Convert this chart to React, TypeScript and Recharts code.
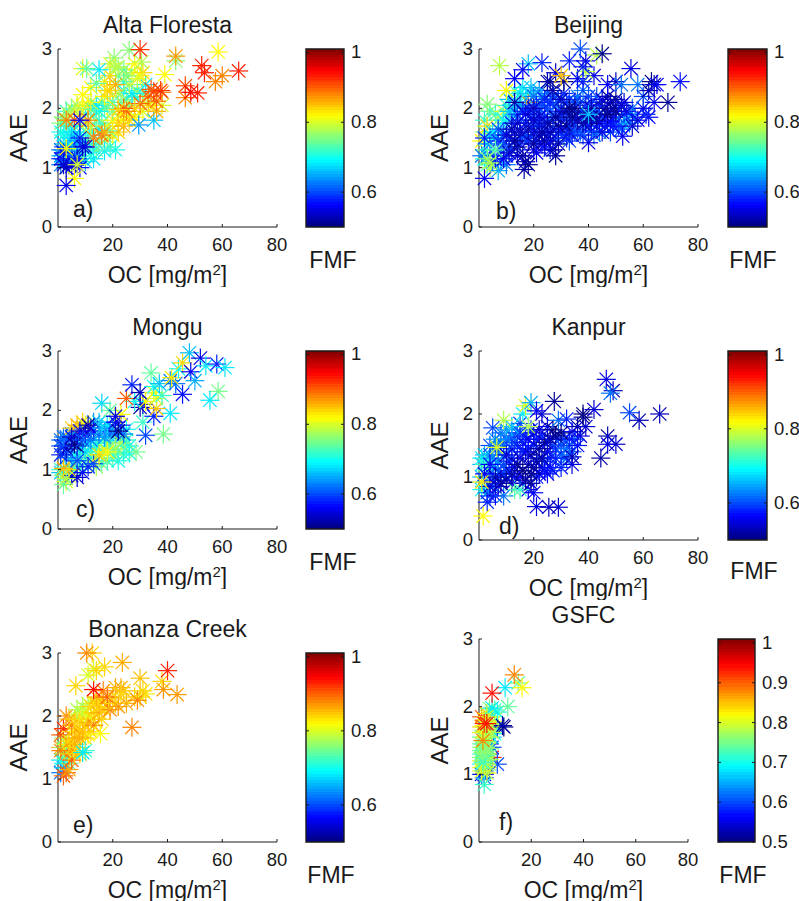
import { ScatterChart, Scatter, BarChart, Bar, XAxis, YAxis } from 'recharts';

// each point is [OC, AAE, FMF]
type Pt = [number, number, number];

const altaFloresta: Pt[] = [
  [15, 1.45, .76], [13, 1.4, .72], [18, 1.5, .78], [20, 1.55, .82], [22, 1.6, .84], [24, 1.8, .8], [26, 1.9, .78], [19, 1.62, .74], [15, 1.65, .68], [12, 1.6, .7],
  [10, 1.9, .72], [12, 2, .7], [16, 2.1, .72], [18, 2.05, .78], [20, 2.1, .72], [23, 2.1, .74], [26, 2.05, .76], [29, 2.3, .76], [31, 2.25, .72], [33, 2.1, .78],
  [35, 2.05, .82], [31, 1.95, .8], [28, 1.85, .82], [24, 2.3, .7], [22, 2.55, .76], [27, 2.6, .8], [24, 2.65, .74], [28, 2.75, .82], [17, 2.45, .8], [19, 2.55, .84],
  [22, 2.7, .78], [12, 2.35, .82], [11, 2.05, .84], [9, 2.05, .82], [7, 2.05, .8], [5, 2, .76], [3, 1.95, .72], [1, 1.75, .76], [1, 1.6, .7], [2, 1.4, .66],
  [4, 1.7, .7], [6, 1.7, .72], [8, 1.72, .76], [6, 1.55, .66], [9, 1.4, .68], [10, 1.6, .72], [11, 1.4, .66], [13, 1.15, .68], [10, 1.1, .66], [7, 1.22, .66],
  [4, 1.3, .64], [1, 1.2, .66], [1, 1.05, .62], [3, 1.12, .64], [5, 1.35, .62], [2, 1.35, .6], [6, 1.38, .58], [8, 1.28, .6], [21, 1.3, .7], [17, 1.28, .68],
  [19, 1.35, .72], [14, 1.3, .74], [12, 1.25, .7], [9, 1.2, .72], [7, 1.3, .72], [11, 1.45, .74], [8, 1.55, .7], [5, 1.6, .68],
  [3, 1.7, .72], [2, 1.85, .76], [4, 1.9, .78], [6, 1.95, .78], [8, 1.9, .8], [10, 1.75, .78], [12, 1.7, .8], [14, 1.8, .76], [16, 1.75, .72], [18, 1.7, .78],
  [20, 1.8, .82], [22, 1.75, .84], [24, 1.7, .86], [26, 1.8, .84], [23, 1.9, .82], [20, 1.95, .76], [17, 2, .74], [15, 1.95, .7], [13, 1.98, .74], [14, 2.05, .68],
  [12, 2.1, .8], [17, 2.2, .82], [19, 2.3, .84], [22, 2.25, .78], [25, 2.15, .76], [28, 2.2, .72], [27, 2.25, .68], [24, 2.45, .72], [26, 2.4, .78], [21, 2.4, .86],
  [18, 2.3, .84], [14, 2.42, .74], [9, 2.23, .82], [32, 2.4, .68], [30, 2.55, .82], [31, 2.6, .84], [29, 2.5, .8], [25, 2.55, .76], [20.5, 2.85, .76], [19, 2.75, .8],
  [21, 2.68, .78], [30.5, 2.78, .78], [26, 2.98, .76], [30, 2.99, .92], [15, 2.65, .68], [9, 2.67, .8], [10.5, 2.67, .74], [43, 2.8, .76], [43, 2.88, .87], [39, 2.57, .82],
  [35, 1.8, .66], [29.5, 1.72, .64], [38, 2.05, .8], [36, 1.95, .86], [33, 2.05, .84], [36, 2.12, .9], [33, 2.2, .88], [30, 2.08, .9], [28, 2, .84], [25, 1.95, .88],
  [24, 2, .9], [22, 1.98, .84], [38, 2.27, .88], [37.5, 2.3, .92], [35, 2.28, .92], [34, 2.32, .9], [46.5, 2.18, .88], [46.5, 2.38, .91], [48.5, 2.27, .95], [51, 2.26, .93],
  [57.5, 2.45, .88], [60, 2.55, .88], [53.5, 2.6, .93], [52.5, 2.72, .93], [58.5, 2.95, .82], [66, 2.63, .93], [16, 1.55, .9], [13, 1.5, .88], [17, 1.6, .86], [11, 1.8, .88],
  [6, 1.8, .9], [3, 1.8, .88], [5, 1.5, .66], [2, 1.55, .7], [4, 1.4, .68], [7, 1.45, .64], [3, 1.2, .66], [1, 1.3, .62], [2, 1.1, .66], [5, 1.2, .62],
  [1, 1.15, .58], [2, 1.25, .56], [4, 1.05, .58], [6, 1.1, .6], [3, 1, .52], [5, 1.02, .55], [2, 1.05, .54], [7, 1.15, .56], [8, 1, .56], [6, .82, .82],
  [3, .7, .56], [9, 1.35, .53], [10, 1.35, .55], [8, 1.5, .58], [8, 1.8, .56], [3, 1.32, .82], [7, 1.05, .8],
];

const beijing: Pt[] = [
  [2, 1.3, .74], [1, 1.45, .82], [2, 1.6, .76], [2, 1.8, .72], [3, 1.7, .84], [4, 1.95, .74], [3, 2.07, .76], [6, 1.9, .72], [7, 1.8, .76], [9, 1.95, .8],
  [5, 1.6, .68], [8, 1.6, .68], [10, 1.75, .66], [12, 1.9, .68], [14, 2.1, .68], [15, 2.25, .66], [13, 2.3, .72], [17, 2.2, .7], [19, 2.25, .66], [21, 2.1, .66],
  [23, 2.2, .64], [18, 2.1, .88], [3, 1.05, .72], [2, 1.15, .7], [4, 1, .78], [3, 1.2, .66], [1, 1.2, .62], [6, 1.3, .7], [7, .95, .65], [5, 1.1, .62],
  [10, 2.05, .72], [11, 2.15, .66], [16, 2.35, .68], [19, 2.35, .66], [22, 2.3, .64], [25, 2.25, .62], [6, 1.5, .66], [4, 1.55, .68], [3, 1.4, .7], [9, 1.8, .7],
  [11, 1.95, .66], [13, 2, .66], [15, 2.05, .64], [17, 2, .64], [20, 2.2, .62], [8, 1.3, .64], [10, 1.05, .62], [8, 1.1, .64], [10, 1.2, .6], [4, 1.4, .62],
  [7, 1.45, .58], [2, 1.5, .58], [9, 1.4, .6], [12, 1.3, .58], [11, 1.5, .58], [14, 1.2, .56], [15, 1.4, .58], [13, 1.6, .58], [16, 1.55, .56], [18, 1.45, .55],
  [17, 1.75, .58], [15, 1.8, .6], [20, 1.6, .56], [22, 1.75, .6], [24, 1.6, .58], [26, 1.8, .62], [19, 1.9, .6], [22, 1.95, .62], [25, 2, .6], [28, 2.05, .62],
  [24, 2.15, .58], [27, 2.2, .6], [30, 1.9, .6], [32, 2.1, .58], [34, 2, .6], [36, 2.2, .62], [38, 2.3, .62], [40, 2.2, .6], [39, 2.05, .58], [42, 1.9, .62],
  [44, 2.05, .58], [45, 1.85, .6], [35, 1.75, .62], [37, 1.6, .62], [40, 1.7, .64], [42, 1.55, .62], [46, 1.7, .6], [48, 1.6, .6], [50, 1.8, .62], [53, 1.75, .62],
  [55, 1.9, .66], [54, 1.8, .68], [56, 2, .62], [52, 1.65, .6], [28, 1.5, .6], [31, 1.55, .62], [33, 1.45, .6], [24, 1.35, .56], [21, 1.25, .55], [26, 1.3, .58],
  [19, 1.52, .58], [21, 1.45, .6], [23, 1.7, .58], [25, 1.55, .6], [27, 1.65, .58], [29, 1.6, .6], [30, 1.8, .58], [32, 1.82, .6], [33, 1.7, .58], [36, 1.65, .6],
  [38, 1.55, .6], [41, 1.62, .58], [43, 1.7, .6], [44, 1.6, .62], [47, 1.75, .58], [49, 1.85, .6], [51, 1.7, .6], [53, 1.9, .58], [55, 1.75, .64], [51, 2, .6],
  [48, 1.95, .58], [46, 1.85, .58], [43, 1.95, .6], [40, 1.85, .6], [37, 1.95, .6], [35, 1.85, .58], [32, 1.95, .6], [29, 1.95, .58], [27, 1.9, .6], [24, 1.85, .58],
  [21, 1.75, .6], [19, 1.7, .58], [17, 1.55, .6], [15, 1.5, .6], [13, 1.45, .58], [11, 1.35, .6], [9, 1.55, .6], [7, 1.65, .6], [6, 1.2, .6], [12, 1.75, .58],
  [14, 1.9, .6], [16, 1.95, .58], [18, 2, .58], [21, 2.05, .58], [23, 2.05, .6], [26, 2.1, .58], [29, 2.15, .6], [31, 2.25, .58], [33, 2.15, .6], [35, 2.1, .58],
  [37, 2.1, .6], [41, 2.1, .58], [43, 2.2, .6], [30, 1.65, .56], [34, 1.55, .56], [39, 1.75, .56], [44, 1.75, .56], [48, 1.78, .56], [41, 1.75, .55], [26, 1.45, .56],
  [23, 1.4, .56], [20, 1.3, .56], [16.5, .97, .52], [2, .82, .56], [17, 1.1, .53], [16, 1.2, .52], [18, 1.05, .51], [20, 1.4, .51], [14, 1.35, .52],
  [11, 1.25, .53], [9, 1.15, .55], [6, 1.15, .56], [13, 1.45, .51], [15, 1.6, .53], [18, 1.65, .52], [20, 1.8, .53], [17, 1.9, .55], [14, 1.75, .54], [12, 1.65, .52],
  [10, 1.55, .54], [22, 1.55, .53], [24, 1.45, .52], [28, 1.2, .51], [27, 1.3, .53], [29, 1.4, .52], [26, 1.6, .53], [29, 1.7, .52], [32, 1.7, .51], [34, 1.85, .5],
  [31, 1.95, .53], [28, 1.85, .51], [25, 1.75, .52], [22, 1.85, .54], [20, 2, .53], [13, 2.1, .52], [23, 1.6, .52], [33, 1.6, .52], [36, 1.8, .53], [38, 1.9, .52],
  [35, 2, .51], [33, 2, .5], [30, 2.15, .53], [27, 2.3, .52], [25, 2.45, .53], [26, 2.45, .51], [31, 2.45, .5], [28, 2.6, .54], [30, 2.55, .85], [36, 2.5, .55],
  [42, 2.55, .55], [39, 2.62, .78], [38, 2.7, .58], [33, 2.8, .58], [39, 2.8, .55], [37, 3, .6], [43, 2.9, .78], [45, 2.92, .51], [23, 2.77, .58], [18, 2.75, .66],
  [16, 2.65, .56], [13, 2.5, .56], [10, 2.3, .82], [7.5, 2.72, .78], [41, 2, .52], [43, 1.8, .52], [46, 2, .51], [47, 1.9, .5], [49, 2, .52], [48, 2.1, .53],
  [50, 2.15, .51], [52, 2.05, .53], [47, 2.2, .52], [45, 2.15, .54], [50, 1.95, .51], [53, 2.1, .55], [54, 1.95, .55], [57, 1.85, .6], [58, 1.8, .55], [56, 1.7, .54],
  [60, 2, .55], [62, 1.85, .56], [49, 1.7, .57], [52.5, 1.53, .56], [45, 1.6, .55], [40, 1.42, .55], [35, 1.6, .6], [32, 1.5, .58], [38, 1.75, .52], [41, 1.85, .51],
  [47, 2.4, .56], [50, 2.45, .53], [52, 2.4, .62], [55.5, 2.67, .55], [58, 2.4, .62], [60, 2.2, .6], [61, 1.9, .58], [62, 2.3, .52], [63, 2.45, .5], [64, 2.4, .53],
  [65, 2.4, .56], [64, 2.1, .55], [69, 2.1, .51], [73.5, 2.45, .57], [40, 1.9, .66], [38, 2.45, .58], [6, 1.3, .74], [3, 1.15, .76], [4, 1.08, .78],
];

const mongu: Pt[] = [
  [8, 1.3, .72], [10, 1.2, .76], [12, 1.35, .72], [14, 1.2, .74], [16, 1.25, .78], [18, 1.45, .72], [20, 1.3, .76], [22, 1.3, .74], [24, 1.4, .74], [26, 1.4, .7],
  [6, 1.25, .7], [4, 1.05, .74], [1, .95, .66], [3, 1.3, .6], [5, 1.35, .62], [7, 1.5, .64], [9, 1.4, .66], [11, 1.45, .66], [13, 1.5, .68], [15, 1.45, .7],
  [17, 1.48, .74], [19, 1.55, .66], [21, 1.55, .68], [23, 1.55, .66], [25, 1.68, .7], [3, 1.55, .62], [1, 1.5, .62], [5, 1.6, .6], [7, 1.6, .62], [9, 1.7, .62],
  [11, 1.6, .64], [13, 1.8, .64], [15, 1.8, .66], [17, 1.65, .6], [19, 1.65, .6], [21, 1.6, .6], [1, 1, .72], [2, .9, .76], [3, .8, .8], [2, .75, .74], [4, .95, .7], [6, 1, .72], [8, 1.05, .74], [10, 1.1, .72], [12, 1.15, .76], [14, 1.05, .78],
  [16, 1.1, .74], [18, 1.15, .72], [20, 1.2, .74], [22, 1.15, .7], [24, 1.25, .72], [26, 1.28, .7], [28.5, 1.3, .75], [12, 1.25, .74], [15, 1.3, .8], [17, 1.35, .78],
  [19, 1.4, .74], [21, 1.35, .76], [23, 1.45, .78], [25, 1.5, .72], [14, 1.4, .7], [10, 1.3, .68], [8, 1.2, .66], [5, 1.15, .66], [3, 1.2, .62], [1, 1.25, .58],
  [2, 1.4, .56], [3, 1.35, .53], [1, 1.4, .6], [4, 1.5, .6], [2, 1.55, .62], [6, 1.6, .64], [5, 1.7, .84], [7, 1.75, .86], [9, 1.8, .84], [10, 1.75, .8],
  [8, 1.65, .56], [10, 1.6, .55], [12, 1.7, .53], [11, 1.75, .52], [13, 1.65, .56], [7, 1.4, .52], [6, 1.43, .5], [5, 1.55, .54], [9, 1.5, .6], [12, 1.5, .62],
  [15, 1.6, .62], [17, 1.55, .64], [16, 1.7, .66], [18, 1.75, .68], [20, 1.7, .64], [24, 1.6, .62], [23, 1.75, .58], [21, 1.8, .56], [22, 1.65, .5], [16, 2.12, .67],
  [19, 2, .74], [23, 1.93, .82], [21, 1.9, .55], [5, .9, .55], [7, .87, .53], [9, .95, .56], [11, 1.05, .58], [13, 1.1, .6], [2, 1.02, .86], [4, 1, .84],
  [3, .85, .78], [7, 1.15, .6], [15, 1.25, .84], [18, 1.3, .82], [31, 1.8, .72], [32, 1.58, .6], [38.5, 1.6, .75], [41, 1.95, .68], [35, 1.9, .58], [36, 2.03, .85],
  [31, 2.1, .55], [30, 2.05, .52], [32, 2.15, .82], [28, 2.15, .7], [25, 2.2, .9], [27, 2.43, .58], [30, 2.3, .53], [35, 2.3, .82], [36, 2.2, .8], [38, 2.25, .72],
  [35, 2.4, .7], [34, 2.63, .74], [37, 2.45, .66], [41, 2.5, .63], [43, 2.45, .62], [41.5, 2.55, .83], [44, 2.7, .7], [45.5, 2.27, .57], [45.5, 2.8, .84], [48, 2.97, .66],
  [48.5, 2.65, .56], [50, 2.5, .65], [52, 2.88, .55], [54, 2.75, .68], [58, 2.78, .58], [61, 2.72, .68], [58.5, 2.32, .75], [55.5, 2.17, .68],
];

const kanpur: Pt[] = [
  [1, 1.2, .66], [2, 1.35, .66], [3, 1.25, .68], [5, 1.15, .66], [7, 1.25, .64], [9, 1.35, .62], [10, 1.1, .62], [4, 1.35, .62], [6, 1.5, .62], [8, 1.55, .64],
  [10, 1.6, .62], [12, 1.65, .6], [13, 1.55, .6], [15, 1.7, .58], [17, 1.65, .58], [19, 1.75, .6], [21, 1.6, .58], [23, 1.65, .58], [25, 1.55, .58], [27, 1.5, .6],
  [29, 1.6, .6], [31, 1.6, .58], [16, 1.4, .6], [14, 1.5, .58], [12, 1.3, .6], [18, 1.45, .58], [20, 1.5, .58], [22, 1.3, .6], [24, 1.25, .6], [26, 1.3, .58],
  [28, 1.45, .58], [30, 1.35, .6], [32, 1.3, .6], [35, 1.6, .62], [33, 1.5, .62], [11, 1.1, .58], [13, 1, .58], [9, 1.05, .6], [7, 1, .6], [5, .85, .6],
  [23, 1.15, .58], [21, 1, .58], [25, 1.05, .56], [18, .8, .56], [16, .9, .56], [1, 1.3, .68], [2, 1.2, .72], [3, 1.1, .74], [1, 1, .66], [2, .85, .66], [1, .8, .7], [3, .75, .62], [4, .7, .6], [3, .6, .58], [6, .7, .56],
  [9, .7, .62], [5, .95, .6], [7, .85, .55], [4, 1.05, .6], [6, 1.15, .62], [8, 1.05, .58], [10, .95, .52], [12, .9, .54], [13, .8, .74], [15, .8, .72],
  [15, 1, .56], [17, .95, .52], [19, .9, .51], [20, .75, .56], [22, 1.05, .55], [24, 1.1, .56], [27, 1.1, .58], [5, 1.3, .64], [7, 1.4, .62], [4, 1.5, .6],
  [9, 1.5, .6], [11, 1.6, .62], [6, 1.6, .64], [8, 1.7, .62], [5, 1.78, .6], [10, 1.75, .64], [12, 1.45, .58], [14, 1.7, .6], [11, 1.25, .58], [9, 1.2, .6],
  [13, 1.15, .56], [15, 1.3, .55], [17, 1.4, .56], [19, 1.35, .52], [21, 1.25, .53], [23, 1.3, .51], [25, 1.4, .55], [18, 1.2, .54], [20, 1.15, .52], [22, 1.45, .52],
  [24, 1.55, .51], [26, 1.6, .53], [28, 1.65, .52], [30, 1.5, .6], [32, 1.45, .62], [31, 1.3, .62], [34, 1.4, .6], [33, 1.6, .58], [28, 1.3, .58], [26, 1.15, .57],
  [30, 1.15, .58], [16, 1.55, .58], [18, 1.6, .56], [20, 1.7, .55], [22, 1.75, .54], [15, 1.85, .6], [12, 1.8, .66], [9, 1.9, .78], [16, 2, .68], [17, 2.13, .8],
  [19, 2.18, .65], [21, 2.05, .56], [23, 2, .54], [18, 1.8, .78], [25, 1.8, .55], [27, 1.75, .5], [29, 1.9, .62], [32, 1.92, .58], [27.5, 2.2, .51], [34, 1.72, .56],
  [37, 1.65, .55], [36, 1.5, .57], [36, 1.8, .52], [39, 1.8, .54], [38, 1.95, .51], [38, 2, .5], [42, 2.07, .54], [34, 1.2, .55], [34, 1.32, .53], [30, 1.7, .5],
  [46.5, 2.55, .55], [49, 2.37, .53], [48, 2.33, .62], [47, 1.65, .52], [47, 1.52, .55], [50, 1.52, .54], [44.5, 1.3, .52], [55, 2.02, .6], [58.5, 1.9, .53], [66, 2, .53],
  [21, .53, .55], [25.5, .52, .53], [29, .52, .54], [4, 1.2, .56], [6, 1, .52], [8, .9, .52], [2, 1.05, .56], [4, .85, .54], [12, 1.05, .52], [14, 1.2, .51],
  [16, 1.1, .5], [19, 1.05, .51], [10, 1.35, .54], [6.5, 1.47, .8], [1.5, .38, .82], [1, .92, .83],
];

const bonanzaCreek: Pt[] = [
  [1, 1.3, .68], [2, 1.25, .7], [1, 1.1, .62], [2, 1.4, .74], [1, 1.5, .86], [3, 1.55, .78], [2, 1.65, .76], [3, 1.45, .9], [1, 1.7, .9], [2, 1.8, .92],
  [3, 1.35, .72], [2, 1.5, .76], [4, 1.25, .74], [2, 1.18, .66], [4, 1.55, .82], [6, 1.55, .86], [8, 1.75, .84], [10, 1.65, .84], [8, 1.4, .84], [11, 1.7, .82],
  [5, 1.75, .82], [7, 1.95, .8], [9, 2.05, .8], [11, 2.2, .78], [13, 2.2, .82], [15, 2.15, .84], [11, 2, .82], [13, 1.95, .84], [16, 1.95, .84], [18, 2.2, .84],
  [20, 2.3, .85], [25, 2.2, .86], [24, 2.4, .85], [32, 2.35, .83],
  [2, 1.05, .9], [3, 1.1, .9], [4, 1.15, .86], [1, 1.45, .88], [4, 1.4, .84], [5, 1.45, .88], [5, 1.3, .9], [6, 1.4, .84], [7, 1.5, .84], [4, 1.6, .84],
  [6, 1.65, .86], [8, 1.65, .86], [7, 1.8, .84], [9, 1.75, .86], [5, 1.85, .88], [3, 2, .88], [4, 1.95, .86], [6, 1.95, .84], [8, 1.95, .84], [10, 1.85, .84],
  [11, 1.9, .86], [13, 1.85, .88], [12, 1.75, .84], [10, 1.45, .72], [9, 1.42, .68], [15.5, 1.72, .82], [7, 2.1, .78], [9, 2.15, .78], [10, 2.05, .8], [12, 2.15, .84],
  [14, 2.2, .84], [13, 2.05, .84], [15, 2.05, .86], [17, 2.1, .84], [19, 2.1, .88], [16, 2.25, .84], [14, 2.3, .86], [18, 2.3, .9], [16.5, 2.4, .88], [13, 2.42, .94],
  [21, 2.45, .86], [23, 2.45, .86], [21, 2.2, .84], [23, 2.35, .84], [22, 2.15, .87], [28, 2.3, .84], [30, 2.3, .84], [29, 2.25, .88], [31, 2.4, .84], [30, 2.6, .85],
  [6.5, 2.48, .84], [11, 2.65, .8], [13, 2.75, .8], [14, 2.72, .84], [17, 2.78, .84], [23.5, 2.85, .86], [12.5, 3, .84], [10.5, 3, .88], [27, 1.82, .88], [38, 2.55, .84],
  [38.5, 2.42, .87], [43.5, 2.34, .87], [40, 2.72, .93],
];

const gsfc: Pt[] = [
  [1, 1.1, .82], [2, 1.05, .6], [1, 1, .58], [3, 1.1, .84], [2, 1, .56], [4, 1.15, .76], [1, 1.2, .8], [2, 1.2, .84], [3, 1.25, .74], [1, 1.3, .72],
  [2, 1.35, .92], [4, 1.3, .55], [5, 1.25, .93], [1, 1.4, .76], [3, 1.4, .72], [2, 1.45, .78], [4, 1.45, .56], [5, 1.4, .6], [1, 1.55, .74], [3, 1.55, .8],
  [5, 1.55, .66], [6, 1.6, .7], [2, 1.65, .76], [4, 1.65, .72], [7, 1.7, .6], [1, 1.7, .84], [3, 1.75, .68], [5, 1.75, .72], [6, 1.78, .8], [2, 1.8, .9],
  [4, 1.85, .8], [1, 1.85, .9], [3, 1.9, .84], [5, 1.9, .78], [4, 1.97, .76], [6, 1.95, .72], [7, 1.92, .7], [5, 1.98, .68], [11, 2, .74], [10, 2.28, .68],
  [15, 2.35, .74], [16.5, 2.28, .82], [13.5, 2.47, .88], [5, 2.2, .94], [9.5, 1.7, .5], [9, 1.72, .52], [7, 1.15, .6], [2, .95, .62], [1, 1.15, .7], [2, 1.3, .72],
  [3, 1.2, .72], [2, 1.25, .74], [1, 1.35, .74], [3, 1.35, .74], [2, 1.1, .76], [3, 1.02, .8], [2, .85, .72], [1, 1.25, .76], [2, 1.15, .78], [3, 1.15, .76],
  [4, 1.22, .78], [1, 1.05, .8], [2, 1.4, .8], [3, 1.3, .78], [4, 1.38, .76], [1, 1.45, .74], [2, 1.55, .78], [3, 1.48, .76], [4, 1.55, .78], [5, 1.62, .78],
  [1, 1.62, .8], [3, 1.65, .78], [2, 1.72, .82], [4, 1.75, .78], [3, 1.85, .8], [2, 1.22, .76], [2.5, 1.28, .74], [1.5, 1.18, .72], [1.5, 1.32, .76], [2.5, 1.4, .76],
  [1.5, 1.5, .88], [2, 1.75, .92], [3, 1.75, .94],
];

const xTicks = [20, 40, 60, 80];
const yTicks = [0, 1, 2, 3];
const fmfTicksShort = [0.6, 0.8, 1];
const fmfTicksFull = [0.5, 0.6, 0.7, 0.8, 0.9, 1];

const fontFamily = '"Liberation Sans", Arial, sans-serif';
const inkColor = '#1a1a1a';
const fmfMin = 0.5;
const fmfMax = 1.01;
const jetLevels = 64;

function jetColor(fmf: number): string {
  const t = Math.min(1, Math.max(0, (fmf - fmfMin) / (fmfMax - fmfMin)));
  const channel = (c: number) => Math.round(255 * Math.min(1, Math.max(0, 1.5 - Math.abs(4 * t - c))));
  return `rgb(${channel(3)},${channel(2)},${channel(1)})`;
}

function StarMark({ cx, cy, payload }: any) {
  if (cx == null || cy == null) return null;
  const stroke = jetColor(payload.fmf);
  const r = 9.5;
  const d = 6.7;
  return (
    <g stroke={stroke} strokeWidth={1.2}>
      <line x1={cx - r} y1={cy} x2={cx + r} y2={cy} />
      <line x1={cx} y1={cy - r} x2={cx} y2={cy + r} />
      <line x1={cx - d} y1={cy - d} x2={cx + d} y2={cy + d} />
      <line x1={cx - d} y1={cy + d} x2={cx + d} y2={cy - d} />
    </g>
  );
}

function XTick({ x, y, payload }: any) {
  return (
    <g>
      <line x1={x} y1={y} x2={x} y2={y - 3} stroke={inkColor} />
      <text x={x} y={y + 24} textAnchor="middle" fontSize={18.5} fontFamily={fontFamily} fill={inkColor}>
        {payload.value}
      </text>
    </g>
  );
}

function YTick({ x, y, payload }: any) {
  return (
    <g>
      <line x1={x} y1={y} x2={x + 3} y2={y} stroke={inkColor} />
      <text x={x - 6} y={y + 6} textAnchor="end" fontSize={18.5} fontFamily={fontFamily} fill={inkColor}>
        {payload.value}
      </text>
    </g>
  );
}

const AXIS_W = 58;
const TOP_SPACE = 40;
const BOTTOM_SPACE = 60;

interface PanelProps {
  title: string;
  tag: string;
  tagX: number;
  tagY: number;
  points: Pt[];
  left: number;
  top: number;
  width: number;
  height: number;
}

function Panel({ title, tag, tagX, tagY, points, left, top, width, height }: PanelProps) {
  const data = points.map(([oc, aae, fmf]) => ({ oc, aae, fmf }));
  const chartW = AXIS_W + width + 16;
  const chartH = TOP_SPACE + height + BOTTOM_SPACE;
  const textProps = { fontFamily, fill: inkColor, fontSize: 23 };
  return (
    <div style={{ position: 'absolute', left: left - AXIS_W, top: top - TOP_SPACE }}>
      <ScatterChart width={chartW} height={chartH} margin={{ top: TOP_SPACE, right: 16, bottom: 0, left: 0 }}>
        <XAxis
          dataKey="oc"
          type="number"
          domain={[0, 80]}
          ticks={xTicks}
          height={BOTTOM_SPACE}
          tickLine={false}
          tickSize={0}
          tickMargin={0}
          interval={0}
          stroke={inkColor}
          tick={<XTick />}
        />
        <YAxis
          dataKey="aae"
          type="number"
          domain={[0, 3]}
          ticks={yTicks}
          width={AXIS_W}
          tickLine={false}
          tickSize={0}
          tickMargin={0}
          interval={0}
          stroke={inkColor}
          tick={<YTick />}
        />
        <Scatter data={data} isAnimationActive={false} shape={<StarMark />} />
        <text x={AXIS_W + width / 2} y={TOP_SPACE - 16} textAnchor="middle" {...textProps}>{title}</text>
        <text
          x={AXIS_W - 40}
          y={TOP_SPACE + height / 2}
          textAnchor="middle"
          dominantBaseline="central"
          transform={`rotate(-90 ${AXIS_W - 40} ${TOP_SPACE + height / 2})`}
          {...textProps}
          fontSize={24}
        >
          AAE
        </text>
        <text x={AXIS_W + tagX} y={TOP_SPACE + height - tagY} {...textProps}>{tag}</text>
        <text x={AXIS_W + width / 2} y={TOP_SPACE + height + 56} textAnchor="middle" {...textProps}>
          OC [mg/m<tspan dy={-8} fontSize={15}>2</tspan><tspan dy={8}>]</tspan>
        </text>
      </ScatterChart>
    </div>
  );
}

interface ColorBarProps {
  id: string;
  ticks: number[];
  left: number;
  top: number;
  width: number;
  height: number;
  labelX: number;
  labelY: number;
}

const colorBarRange = [{ name: 'FMF', span: [fmfMin, fmfMax] }];

function ColorBar({ id, ticks, left, top, width, height, labelX, labelY }: ColorBarProps) {
  const pad = 5;
  const topPad = 8;
  const rightSpace = 50;
  const stops = [];
  for (let i = 0; i < jetLevels; i++) {
    // top of the bar is the highest level
    const color = jetColor(fmfMin + ((jetLevels - i - 0.5) / jetLevels) * (fmfMax - fmfMin));
    stops.push(<stop key={`${i}a`} offset={`${(i / jetLevels) * 100}%`} stopColor={color} />);
    stops.push(<stop key={`${i}b`} offset={`${((i + 1) / jetLevels) * 100}%`} stopColor={color} />);
  }
  return (
    <div style={{ position: 'absolute', left: left - pad, top: top - topPad }}>
      <BarChart
        width={pad + width + rightSpace}
        height={topPad + height + 60}
        data={colorBarRange}
        barCategoryGap={0}
        margin={{ top: topPad, right: 0, bottom: 60, left: pad }}
      >
        <defs>
          <linearGradient id={id} x1="0" y1="0" x2="0" y2="1">{stops}</linearGradient>
        </defs>
        <XAxis dataKey="name" hide />
        <YAxis
          type="number"
          orientation="right"
          domain={[fmfMin, fmfMax]}
          ticks={ticks}
          width={rightSpace}
          interval={0}
          axisLine={false}
          tickSize={0}
          tickMargin={0}
          tickLine={false}
          tick={({ x, y, payload }: any) => (
            <g>
              <line x1={x - 3} y1={y} x2={x} y2={y} stroke={inkColor} />
              <line x1={x - width} y1={y} x2={x - width + 3} y2={y} stroke={inkColor} />
              <text x={x + 7} y={y + 6} fontSize={18.5} fontFamily={fontFamily} fill={inkColor}>{payload.value}</text>
            </g>
          )}
        />
        <Bar dataKey="span" fill={`url(#${id})`} stroke={inkColor} strokeWidth={1.4} isAnimationActive={false} />
        <text x={pad + labelX} y={topPad + height + labelY} textAnchor="middle" fontFamily={fontFamily} fontSize={23} fill={inkColor}>FMF</text>
      </BarChart>
    </div>
  );
}

export default function App() {
  return (
    <div style={{ position: 'absolute', left: 0, top: 0, width: 799, height: 901, overflow: 'hidden', background: '#fff' }}>
      <Panel title="Alta Floresta" tag="a)" tagX={15} tagY={10} points={altaFloresta} left={58} top={49} width={219} height={178} />
      <ColorBar id="jetA" ticks={fmfTicksShort} left={306} top={49} width={38} height={178} labelX={27} labelY={41} />

      <Panel title="Beijing" tag="b)" tagX={17} tagY={8} points={beijing} left={479} top={49} width={219} height={178} />
      <ColorBar id="jetB" ticks={fmfTicksShort} left={728} top={49} width={39} height={178} labelX={25} labelY={41} />

      <Panel title="Mongu" tag="c)" tagX={18} tagY={12} points={mongu} left={58} top={351} width={219} height={178} />
      <ColorBar id="jetC" ticks={fmfTicksShort} left={306} top={351} width={38} height={178} labelX={27} labelY={41} />

      <Panel title="Kanpur" tag="d)" tagX={20} tagY={6} points={kanpur} left={479} top={351} width={219} height={189} />
      <ColorBar id="jetD" ticks={fmfTicksShort} left={728} top={351} width={39} height={189} labelX={26} labelY={39} />

      <Panel title="Bonanza Creek" tag="e)" tagX={15} tagY={9} points={bonanzaCreek} left={58} top={653} width={219} height={189} />
      <ColorBar id="jetE" ticks={fmfTicksShort} left={306} top={653} width={38} height={189} labelX={25} labelY={41} />

      <Panel title="GSFC" tag="f)" tagX={20} tagY={12} points={gsfc} left={479} top={639} width={209} height={203} />
      <ColorBar id="jetF" ticks={fmfTicksFull} left={718} top={639} width={37} height={203} labelX={25} labelY={41} />
    </div>
  );
}
